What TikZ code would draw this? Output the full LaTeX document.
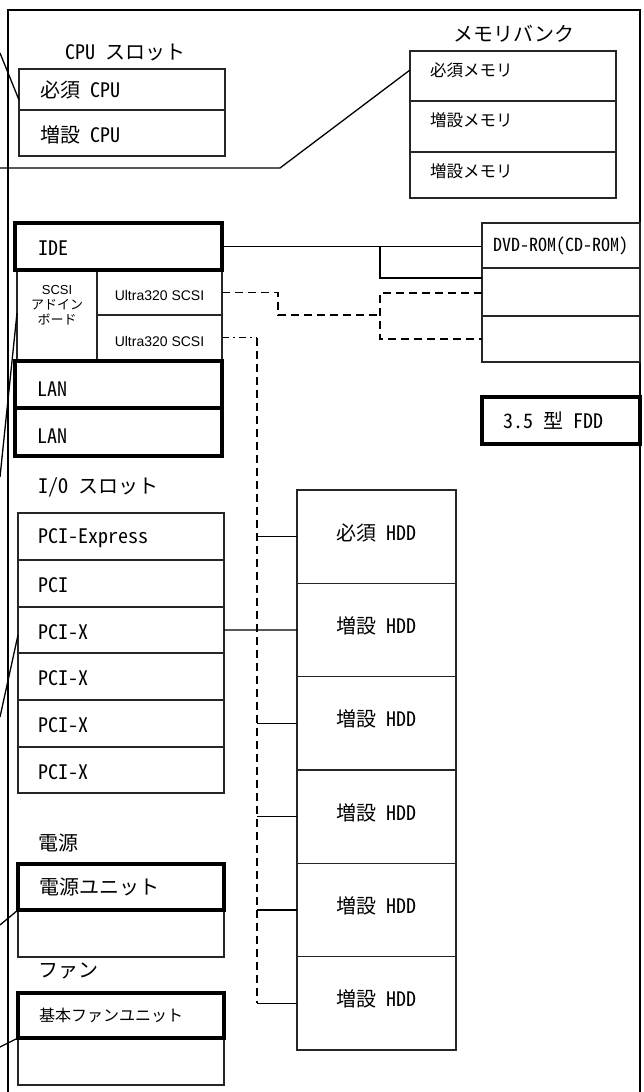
\documentclass[tikz,border=0pt]{standalone}
\usepackage{fontspec}
\setmainfont{Noto Sans CJK JP}
\newfontfamily\hw{Noto Sans CJK JP}[RawFeature=+hwid]
\newfontfamily\ls{Liberation Sans}
\usetikzlibrary{calc}
\tikzset{
  box/.style args={#1x#2}{minimum width=#1pt, minimum height=#2pt},
  cell/.style={draw=black!85, line width=1.2pt, rectangle, anchor=north west, inner sep=0pt, outer sep=0pt},
  tcell/.style={draw=black, line width=3.2pt, rectangle, anchor=north west, inner sep=0pt, outer sep=0pt},
  lab/.style={anchor=west, inner sep=0pt, font=\fontsize{20}{24}\selectfont},
  smalllab/.style={anchor=west, inner sep=0pt, font=\fontsize{16.5}{20}\selectfont},
  ctr/.style={anchor=center, inner sep=0pt, font=\fontsize{20}{24}\selectfont},
  frame/.style={draw=black, line width=2.2pt},
  wire/.style={draw=black, line width=1.3pt},
  dsh/.style={draw=black, line width=1.3pt, dash pattern=on 8pt off 5pt},
  dshdot/.style={draw=black, line width=1.3pt, dash pattern=on 7pt off 4pt on 2pt off 4pt},
}
\begin{document}
\begin{tikzpicture}[x=1pt,y=-1pt]
\useasboundingbox[fill=white] (0,0) rectangle (643,1092);

% frame
\coordinate (fbl) at (8,1092);
\coordinate (ftl) at (8,10);
\coordinate (ftr) at (640,10);
\coordinate (fbr) at (640,1092);
\draw[frame] (fbl) -- (ftl) -- (ftr) -- (fbr);

% section labels
\node[lab] (lcpu) at (65,53) {{\hw CPU }スロット};
\node[lab] (lmem) at (453,34) {メモリバンク};
\node[lab] (lio) at (38,487) {{\hw I/O }スロット};
\node[lab] (lpsu) at (38,843) {電源};
\node[lab] (lfan) at (38,971) {ファン};

% CPU slots
\node[cell, box=206x41] (cpu1) at (19,69) {};
\node[cell, box=206x46] (cpu2) at (19,110) {};
\node[lab] (tcpu1) at ($(cpu1.west)+(21,0)$) {必須{\hw\ CPU}};
\node[lab] (tcpu2) at ($(cpu2.west)+(21,2)$) {増設{\hw\ CPU}};

% memory bank
\node[cell, box=206x50] (mem1) at (410,51) {};
\node[cell, box=206x51] (mem2) at (410,101) {};
\node[cell, box=206x46] (mem3) at (410,152) {};
\node[smalllab] (tmem1) at ($(mem1.north west)+(20,19)$) {必須メモリ};
\node[smalllab] (tmem2) at ($(mem2.north west)+(20,19)$) {増設メモリ};
\node[smalllab] (tmem3) at ($(mem3.north west)+(20,19)$) {増設メモリ};

% SCSI add-in board
\node[cell, box=80x90] (scsi) at (17,270) {};
\node[cell, box=125x45] (ultra1) at (97,270) {};
\node[cell, box=125x45] (ultra2) at (97,315) {};
\node[anchor=center, inner sep=0pt, align=center, font=\fontsize{13}{15}\selectfont] (tscsi) at ($(scsi.center)+(0,-10)$) {{\ls SCSI}\\アドイン\\ボード};
\node[anchor=center, inner sep=0pt, font=\ls\fontsize{14}{16}\selectfont] (tu1) at ($(ultra1.center)+(0,3)$) {Ultra320 SCSI};
\node[anchor=center, inner sep=0pt, font=\ls\fontsize{14}{16}\selectfont] (tu2) at ($(ultra2.center)+(0,4)$) {Ultra320 SCSI};

% optical drive bays
\node[cell, box=158x45] (dvd1) at (482,223) {};
\node[cell, box=158x48] (dvd2) at (482,268) {};
\node[cell, box=158x46] (dvd3) at (482,316) {};
\node[anchor=center, inner sep=0pt, font=\hw\fontsize{18}{22}\selectfont] (tdvd) at (dvd1.center) {DVD-ROM(CD-ROM)};

% I/O slots
\node[cell, box=206x47] (io1) at (18,513) {};
\node[cell, box=206x47] (io2) at (18,560) {};
\node[cell, box=206x46] (io3) at (18,607) {};
\node[cell, box=206x47] (io4) at (18,653) {};
\node[cell, box=206x47] (io5) at (18,700) {};
\node[cell, box=206x46] (io6) at (18,747) {};
\node[lab] (tio1) at ($(io1.west)+(20,2)$) {\hw PCI-Express};
\node[lab] (tio2) at ($(io2.west)+(20,2)$) {\hw PCI};
\node[lab] (tio3) at ($(io3.west)+(20,2)$) {\hw PCI-X};
\node[lab] (tio4) at ($(io4.west)+(20,2)$) {\hw PCI-X};
\node[lab] (tio5) at ($(io5.west)+(20,2)$) {\hw PCI-X};
\node[lab] (tio6) at ($(io6.west)+(20,2)$) {\hw PCI-X};

% HDD bays
\foreach \i in {1,...,6}
  \node[cell, box=159x93.33] (hdd\i) at (297,{490+(\i-1)*93.33}) {};
\node[ctr] (thdd1) at ($(hdd1.center)+(0,-4)$) {必須{\hw\ HDD}};
\foreach \i in {2,...,6}
  \node[ctr] (thdd\i) at ($(hdd\i.center)+(0,-4)$) {増設{\hw\ HDD}};

% power and fan (thin lower halves)
\node[cell, box=206x47] (psu2) at (18,910) {};
\node[cell, box=206x47] (fan2) at (18,1038) {};

% thick boxes
\node[tcell, box=207x47] (ide) at (15,223) {};
\node[tcell, box=207x47] (lan1) at (15,361) {};
\node[tcell, box=207x48] (lan2) at (15,408) {};
\node[tcell, box=158x47] (fdd) at (482,397) {};
\node[tcell, box=206x46] (psu1) at (18,864) {};
\node[tcell, box=206x45] (fan1) at (18,993) {};
\node[lab] (tide) at ($(ide.west)+(23,2)$) {\hw IDE};
\node[lab] (tlan1) at ($(lan1.west)+(22,5)$) {\hw LAN};
\node[lab] (tlan2) at ($(lan2.west)+(22,4)$) {\hw LAN};
\node[lab] (tfdd) at ($(fdd.west)+(21,0)$) {{\hw 3.5 }型{\hw\ FDD}};
\node[lab] (tpsu) at ($(psu1.west)+(21,0)$) {電源ユニット};
\node[smalllab, font=\fontsize{16}{19}\selectfont] (tfan) at ($(fan1.west)+(21,0)$) {基本ファンユニット};

% IDE connections
\coordinate (jx) at (380,0);
\coordinate (d2in) at (482,278);
\draw[wire] (ide.east) -- (ide.east -| dvd1.west);
\draw[wire] (ide.east -| jx) |- (d2in);

% SCSI channel 1 (dashed)
\coordinate (s1x) at (278,0);
\coordinate (m1) at (380,315);
\coordinate (bt) at (380,293);
\coordinate (bb) at (380,339);
\draw[dsh] (ultra1.east) -- (ultra1.east -| s1x) |- (m1);
\draw[dsh] (bt -| dvd2.west) -- (bt) -- (bb) -- (bb -| dvd3.west);

% SCSI channel 2 (dash-dot then dashed trunk)
\coordinate (vx) at (257,0);
\draw[dshdot] (ultra2.east) -- (ultra2.east -| vx);
\draw[dsh] (ultra2.east -| vx) -- (vx |- hdd6.west);
\foreach \i in {1,3,4,5,6}
  \draw[wire] (vx |- hdd\i.west) -- (hdd\i.west);
\draw[wire] (io3.east) -- (hdd2.west);

% leader lines from outside
\coordinate (e1) at (0,53);
\coordinate (e2) at (0,168);
\coordinate (k2) at (280,168);
\coordinate (e3) at (0,477);
\coordinate (e4) at (0,717);
\coordinate (e5) at (0,925);
\coordinate (e6) at (0,1047);
\draw[wire] (e1) -- ($(cpu1.south west)+(0,-10)$);
\draw[wire] (e2) -- (k2) -- ($(mem1.north west)+(0,19)$);
\draw[wire] (e3) -- ($(scsi.north west)+(0,43)$);
\draw[wire] (e4) -- ($(io3.west)+(0,5)$);
\draw[wire] (e5) -- (psu1.south west);
\draw[wire] (e6) -- (fan1.south west);
\end{tikzpicture}
\end{document}
